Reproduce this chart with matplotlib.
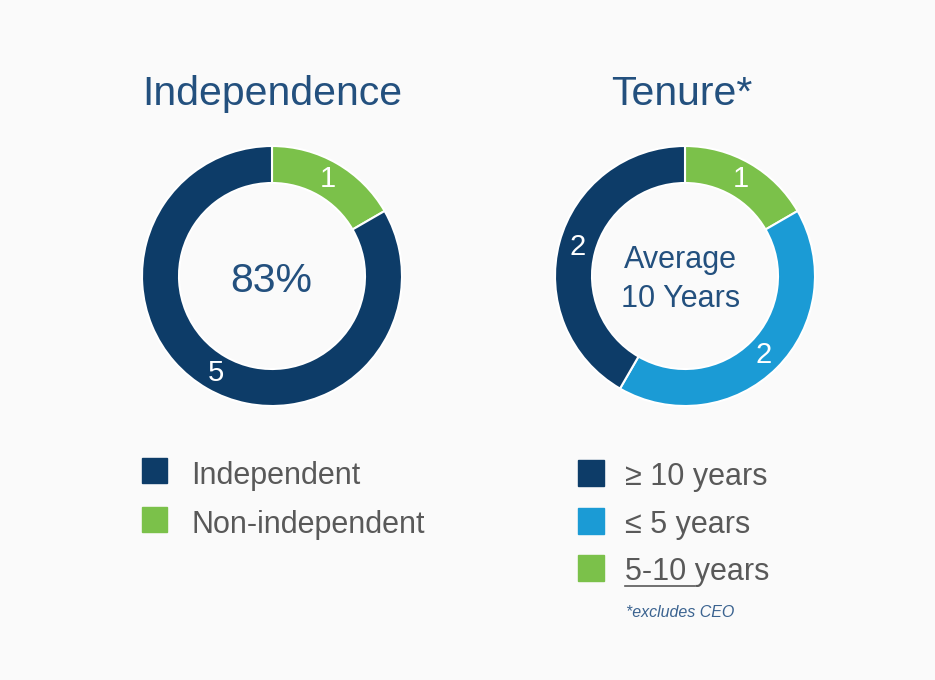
import numpy as np
import matplotlib
matplotlib.use("Agg")
import matplotlib.pyplot as plt
from matplotlib.patches import Rectangle

plt.rcParams['font.family'] = ['Liberation Sans', 'DejaVu Sans']

# data
indep_labels = ['Independent', 'Non-independent']
indep_counts = [5, 1]
indep_share = '83%'

tenure_labels = ['\u2265 10 years', '\u2264 5 years', '5-10 years']
tenure_counts = [2, 2, 1]
tenure_arc = [2.5, 2.5, 1]   # arc sizes as drawn in the original
tenure_avg = ['Average', '10 Years']

NAVY = '#0d3c68'
GREEN = '#7bc14a'
BLUE = '#1b9bd5'
TITLE = '#23507e'
GRAY = '#595959'

W, H = 935, 680
fig = plt.figure(figsize=(W / 100, H / 100), dpi=100, facecolor='#fafafa')
ax = fig.add_axes([0, 0, 1, 1])
ax.set_facecolor('#fafafa')

R = 130
ring = 37


def donut(cx, cy, sizes, colors, texts):
    wedges, _ = ax.pie(sizes, colors=colors, startangle=90, counterclock=False,
                       center=(cx, cy), radius=R, frame=True,
                       wedgeprops=dict(width=ring, edgecolor='white', linewidth=1.5))
    rm = R - ring / 2
    for w, t in zip(wedges, texts):
        a = np.deg2rad((w.theta1 + w.theta2) / 2)
        ax.text(cx + rm * np.cos(a), cy + rm * np.sin(a), str(t), color='white',
                fontsize=21, ha='center', va='center')


# Independence: green first going clockwise from top
donut(272, H - 276, indep_counts[::-1], [GREEN, NAVY], indep_counts[::-1])
# Tenure
donut(685, H - 276, tenure_arc[::-1], [GREEN, BLUE, NAVY], tenure_counts[::-1])

ax.set_xlim(0, W)
ax.set_ylim(0, H)
ax.set_aspect('equal')
ax.axis('off')

# titles
ax.text(272, H - 105, 'Independence', fontsize=29.5, color=TITLE, ha='center', va='baseline')
ax.text(682, H - 105, 'Tenure*', fontsize=29.5, color=TITLE, ha='center', va='baseline')

# centre texts
ax.text(271, H - 292, indep_share, fontsize=29.5, color=TITLE, ha='center', va='baseline')
ax.text(680, H - 268, tenure_avg[0], fontsize=22, color=TITLE, ha='center', va='baseline')
ax.text(681, H - 307, tenure_avg[1], fontsize=22, color=TITLE, ha='center', va='baseline')

# legends
for lab, col, yb in zip(indep_labels, [NAVY, GREEN], [484, 533]):
    ax.add_patch(Rectangle((142, H - yb + 1), 25, 25, color=col))
    ax.text(191, H - yb, lab, fontsize=22, color=GRAY, ha='left', va='baseline')

tenure_cols = [NAVY, BLUE, GREEN]
for lab, col, yb in zip(tenure_labels, tenure_cols, [485, 533, 580]):
    ax.add_patch(Rectangle((578, H - yb - 1), 26, 26, color=col))
    ax.text(625, H - yb, lab, fontsize=22, color=GRAY, ha='left', va='baseline')

ax.text(626, H - 617, '*excludes CEO', fontsize=11.5, style='italic', color='#3b6390',
        ha='left', va='baseline')

# underline "5-10 " in the last legend entry
fig.canvas.draw()
r = fig.canvas.get_renderer()
tmp = ax.text(625, H - 580, '5-10 ', fontsize=22, ha='left', va='baseline')
bb = tmp.get_window_extent(r)
tmp.remove()
ax.plot([625, 625 + bb.width], [H - 586, H - 586], color=GRAY, lw=1.2)

fig.savefig('out.png', dpi=100, facecolor=fig.get_facecolor())
